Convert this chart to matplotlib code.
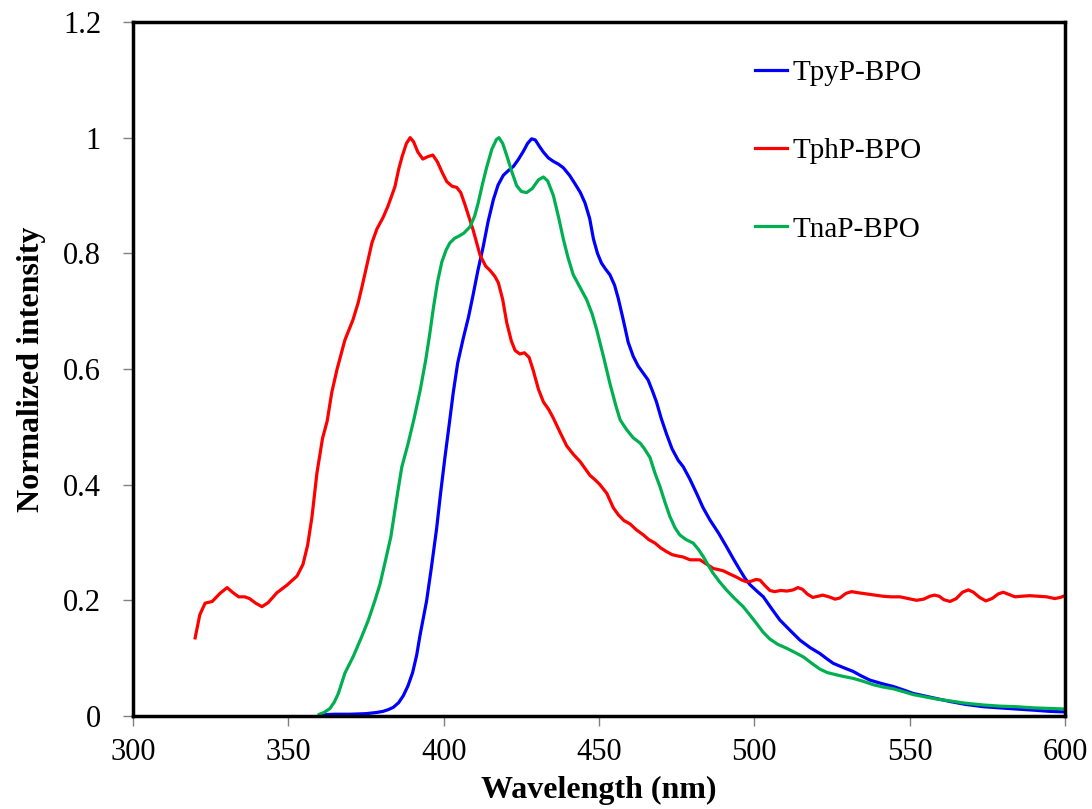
import matplotlib
matplotlib.use("Agg")
import matplotlib.pyplot as plt

plt.rcParams['font.family'] = ['Liberation Serif', 'DejaVu Serif']

# TpyP-BPO (blue)
wl_tpy = [360, 365, 370, 375, 378.4, 380.5, 382.2, 383.8, 385.5, 387, 388.5, 390, 391.3, 392.4,
          393.4, 394.5, 396, 397.7, 399, 400.4, 401.8, 403.1, 404.5, 406.3, 408, 409.5, 411,
          412.7, 414.3, 416, 417.5, 419.2, 420.8, 422.4, 424, 425.6, 427, 428.3, 429.5, 430.8,
          432.1, 433.7, 435.3, 437, 438.5, 440.5, 442.3, 444, 445.5, 447, 448.2, 449.5, 450.8,
          452.2, 453.5, 455, 456.2, 457.8, 459.4, 461, 462.6, 464.2, 465.8, 467.2, 468.5, 470,
          471.7, 473.5, 475.5, 477.1, 479.2, 481.4, 483.5, 485.7, 488.5, 491, 493.2, 495.4, 497,
          498.6, 500.8, 502.9, 505.5, 508.2, 511.5, 514.7, 518, 521.1, 523.3, 525.4, 528.5,
          531.8, 534.5, 537.2, 541, 544.7, 548, 551.1, 557, 563, 568, 573.7, 579, 584.4, 590,
          595, 600]
int_tpy = [0.002, 0.003, 0.003, 0.004, 0.006, 0.008, 0.011, 0.015, 0.023, 0.035, 0.052, 0.075,
           0.105, 0.14, 0.168, 0.199, 0.255, 0.323, 0.385, 0.447, 0.505, 0.56, 0.61, 0.653, 0.69,
           0.729, 0.77, 0.811, 0.855, 0.893, 0.918, 0.935, 0.943, 0.95, 0.962, 0.976, 0.99,
           0.998, 0.996, 0.985, 0.975, 0.965, 0.959, 0.954, 0.948, 0.935, 0.92, 0.905, 0.887,
           0.86, 0.825, 0.8, 0.783, 0.772, 0.763, 0.745, 0.722, 0.685, 0.646, 0.622, 0.605,
           0.593, 0.581, 0.562, 0.543, 0.515, 0.488, 0.462, 0.442, 0.431, 0.41, 0.385, 0.36,
           0.339, 0.316, 0.293, 0.272, 0.252, 0.238, 0.227, 0.216, 0.206, 0.186, 0.166, 0.148,
           0.131, 0.118, 0.108, 0.099, 0.091, 0.084, 0.077, 0.069, 0.062, 0.056, 0.051, 0.045,
           0.039, 0.032, 0.025, 0.02, 0.016, 0.014, 0.012, 0.01, 0.008, 0.007]

# TphP-BPO (red)
wl_tph = [320, 321.5, 323.2, 325.5, 328, 330.3, 332, 334, 336, 337.5, 339.5, 341.5, 343.5,
          346.3, 349.5, 352.8, 354.7, 356.2, 357.6, 359.2, 361, 362.5, 364, 365.7, 368.2,
          370.8, 372.5, 373.7, 375.5, 376.9, 378.5, 380.5, 382.1, 384.3, 385.5, 386.6, 388,
          389.2, 390.3, 391.7, 393.3, 394.8, 396.5, 398, 399.5, 401, 402.7, 404.2, 405.5,
          406.8, 408, 409.5, 411.7, 413.5, 415, 416.5, 417.6, 419, 420.3, 421.8, 423, 424.5,
          426, 427.5, 428.8, 430.5, 432.1, 433.8, 435.3, 437.5, 439.6, 441.8, 443.9, 445.5,
          447.1, 448.8, 450.3, 452.5, 454.6, 456.2, 458, 460, 462, 464.3, 466, 468, 470, 471.8,
          473.5, 475, 477, 479.3, 481, 482.5, 484.5, 486.8, 488.5, 490, 492.3, 494.3, 496,
          497.5, 499, 500.5, 501.8, 503.5, 505, 506.5, 508.5, 510.5, 512.5, 514, 515.5, 517,
          518.8, 520.5, 522, 524, 526, 527.5, 529.5, 531.3, 533.5, 536.1, 538.5, 541.5, 544,
          546.9, 549.5, 552.2, 554.5, 556.5, 558, 559.5, 561, 563, 565, 567, 568.9, 570.5,
          572.5, 574.5, 576.5, 578.5, 580.1, 582, 583.9, 586, 588.7, 591.5, 594.1, 596.7,
          598.5, 600]
int_tph = [0.135, 0.175, 0.195, 0.198, 0.212, 0.222, 0.214, 0.206, 0.206, 0.203, 0.195, 0.189,
           0.196, 0.213, 0.226, 0.242, 0.262, 0.295, 0.344, 0.42, 0.48, 0.51, 0.56, 0.6, 0.65,
           0.685, 0.715, 0.742, 0.785, 0.818, 0.842, 0.862, 0.882, 0.915, 0.945, 0.967, 0.99,
           1.0, 0.993, 0.975, 0.963, 0.967, 0.97, 0.958, 0.94, 0.924, 0.916, 0.914, 0.905,
           0.885, 0.865, 0.84, 0.797, 0.778, 0.77, 0.76, 0.749, 0.72, 0.68, 0.648, 0.632,
           0.626, 0.628, 0.62, 0.598, 0.565, 0.543, 0.53, 0.515, 0.49, 0.467, 0.452, 0.44,
           0.428, 0.416, 0.408, 0.4, 0.385, 0.36, 0.348, 0.338, 0.332, 0.322, 0.313, 0.305,
           0.299, 0.29, 0.284, 0.279, 0.277, 0.275, 0.27, 0.27, 0.27, 0.263, 0.255, 0.253,
           0.251, 0.245, 0.24, 0.235, 0.232, 0.233, 0.236, 0.235, 0.225, 0.217, 0.215, 0.217,
           0.216, 0.218, 0.222, 0.219, 0.211, 0.205, 0.207, 0.209, 0.206, 0.202, 0.204, 0.212,
           0.215, 0.213, 0.211, 0.209, 0.207, 0.206, 0.206, 0.203, 0.2, 0.202, 0.207, 0.209,
           0.207, 0.201, 0.198, 0.203, 0.214, 0.218, 0.214, 0.205, 0.199, 0.203, 0.211, 0.214,
           0.21, 0.206, 0.207, 0.208, 0.207, 0.206, 0.203, 0.205, 0.208]

# TnaP-BPO (green)
wl_tna = [360, 361.5, 363.4, 364.8, 366.1, 368.2, 370.9, 373.6, 375.7, 377.9, 379.5, 381.1,
          383, 385, 386.5, 388.5, 390.5, 392.5, 394.2, 395.5, 396.7, 398, 399.4, 400.8, 402,
          403.5, 405, 406.5, 408.5, 410, 411.1, 412.5, 413.8, 415.5, 417, 417.8, 419, 420.3,
          422, 423.5, 425, 426.7, 428.5, 430.5, 432.1, 433.5, 435.3, 437, 438.5, 440, 441.7,
          443.8, 446, 447.8, 449.3, 451.5, 453.5, 455.5, 456.8, 458.9, 461, 463.2, 464.5,
          466.4, 468, 469.6, 471.2, 472.8, 474.5, 476, 478, 480.3, 482, 483.5, 485, 486.7,
          488.8, 491, 493.5, 496.4, 498.5, 500.7, 502.8, 505, 507.5, 510.4, 513, 515.8, 518.5,
          521.1, 523.5, 526.5, 529, 531.8, 535, 538.3, 541.5, 544.7, 548, 551.1, 555, 559,
          563, 568, 573.7, 579, 584.4, 590, 595, 600]
int_tna = [0.003, 0.006, 0.013, 0.024, 0.039, 0.074, 0.103, 0.137, 0.165, 0.2, 0.228, 0.265,
           0.31, 0.38, 0.43, 0.47, 0.515, 0.565, 0.615, 0.66, 0.706, 0.75, 0.785, 0.806, 0.818,
           0.826, 0.83, 0.835, 0.846, 0.865, 0.887, 0.92, 0.948, 0.98, 0.997, 1.0, 0.99, 0.969,
           0.94, 0.917, 0.907, 0.905, 0.912, 0.927, 0.932, 0.925, 0.9, 0.862, 0.825, 0.793,
           0.763, 0.742, 0.72, 0.695, 0.667, 0.62, 0.575, 0.535, 0.512, 0.495, 0.481, 0.472,
           0.463, 0.447, 0.42, 0.397, 0.37, 0.345, 0.325, 0.313, 0.305, 0.299, 0.288, 0.276,
           0.262, 0.247, 0.232, 0.218, 0.204, 0.189, 0.175, 0.16, 0.145, 0.133, 0.124, 0.117,
           0.11, 0.102, 0.091, 0.081, 0.075, 0.071, 0.068, 0.065, 0.06, 0.054, 0.05, 0.047,
           0.042, 0.037, 0.033, 0.029, 0.026, 0.022, 0.019, 0.017, 0.016, 0.014, 0.013, 0.012]

fig = plt.figure(figsize=(10.92, 8.09), dpi=100)
ax = fig.add_axes([0.1218, 0.115, 0.8535, 0.8578])

lw = 2.3
ax.plot(wl_tpy, int_tpy, color='#0000FF', lw=lw, label='TpyP-BPO')
ax.plot(wl_tph, int_tph, color='#FF0000', lw=lw, label='TphP-BPO')
ax.plot(wl_tna, int_tna, color='#00B050', lw=lw, label='TnaP-BPO')

ax.set_xlim(300, 600)
ax.set_ylim(0, 1.2)
ax.set_xticks(range(300, 601, 50))
ax.set_yticks([0, 0.2, 0.4, 0.6, 0.8, 1.0, 1.2])
ax.set_yticklabels(['0', '0.2', '0.4', '0.6', '0.8', '1', '1.2'])
ax.tick_params(axis='both', direction='out', length=7, width=1, color='#808080',
               labelsize=22)
ax.tick_params(axis='y', pad=16)
ax.tick_params(axis='x', pad=9)

for s in ax.spines.values():
    s.set_linewidth(2.5)
    s.set_color('black')

ax.set_xlabel('Wavelength (nm)', fontsize=23, fontweight='bold', labelpad=6)
ax.set_ylabel('Normalized intensity', fontsize=23, fontweight='bold', labelpad=12)

ax.legend(loc='upper left', bbox_to_anchor=(0.667, 0.946), frameon=False, fontsize=21,
          handlelength=1.1, handletextpad=0.2, labelspacing=1.78, borderpad=0,
          borderaxespad=0)

fig.savefig('out.png', dpi=100)
